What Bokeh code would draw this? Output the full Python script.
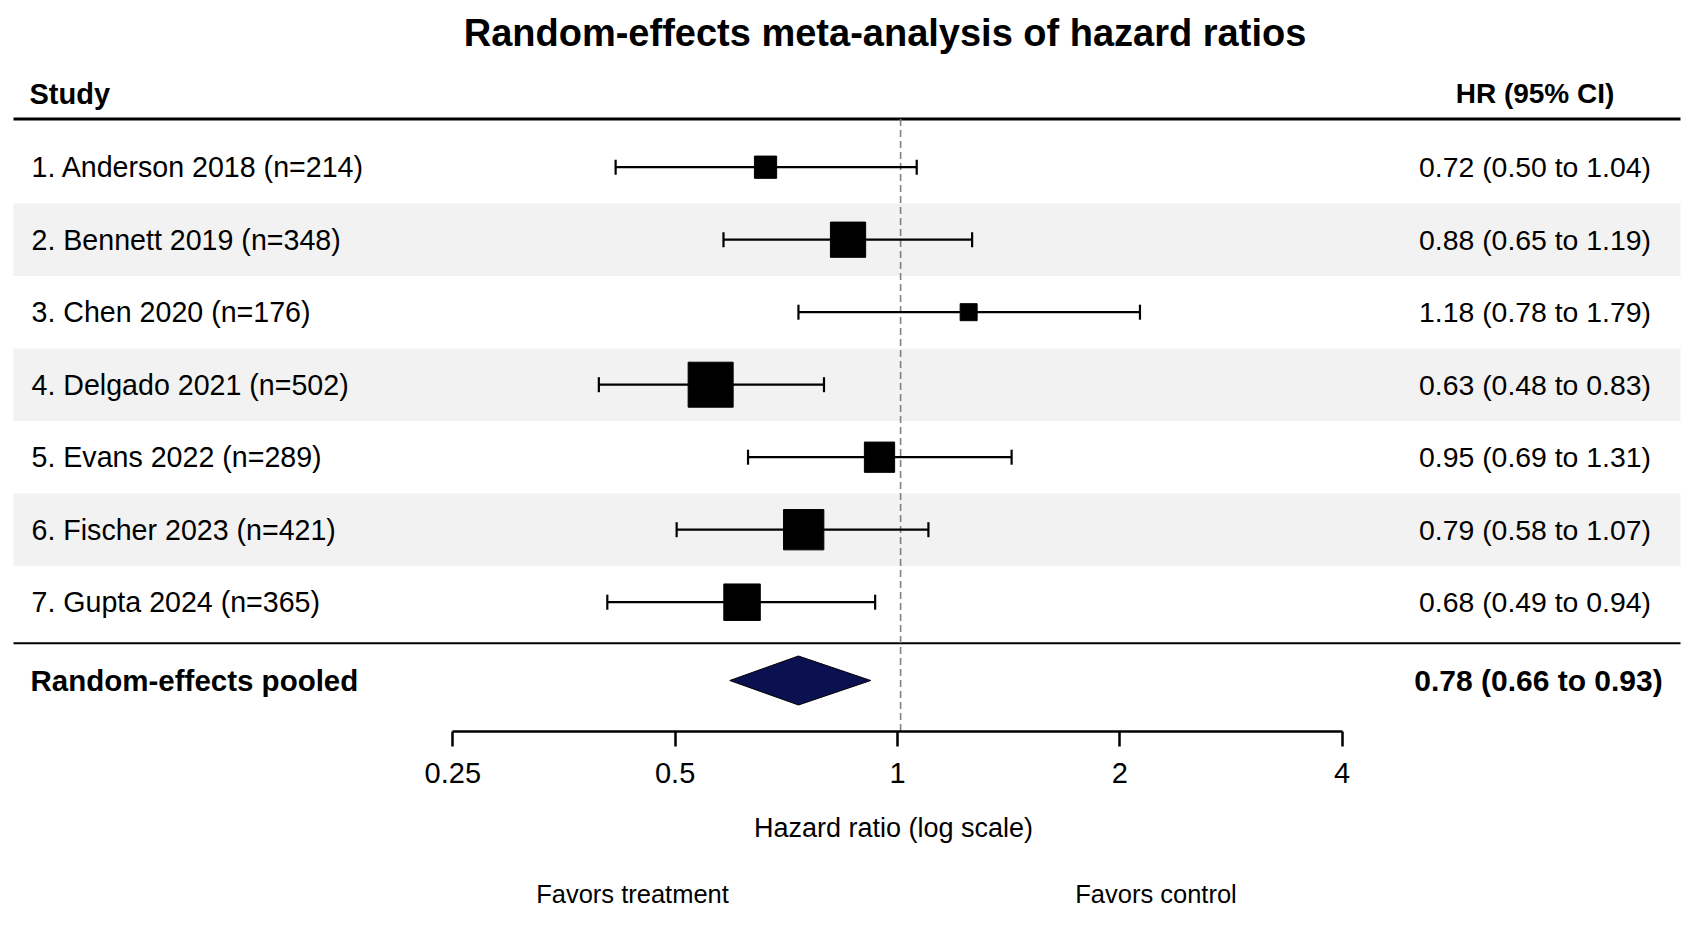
import numpy as np
from bokeh.plotting import figure
from bokeh.models import (Range1d, LinearScale, LogScale, LogAxis, FixedTicker,
                          CustomJSTickFormatter, ColumnDataSource)
from bokeh.core.properties import value
from bokeh.embed import file_html
from bokeh.resources import INLINE

# ---------------- data ----------------
names = ["Anderson", "Bennett", "Chen", "Delgado", "Evans", "Fischer", "Gupta"]
years = [2018, 2019, 2020, 2021, 2022, 2023, 2024]
n_patients = [214, 348, 176, 502, 289, 421, 365]
hr = [0.72, 0.88, 1.18, 0.63, 0.95, 0.79, 0.68]
ci_low = [0.50, 0.65, 0.78, 0.48, 0.69, 0.58, 0.49]
ci_high = [1.04, 1.19, 1.79, 0.83, 1.31, 1.07, 0.94]
pooled_hr = 0.78
pooled_low = 0.66
pooled_high = 0.93
tick_values = [0.25, 0.5, 1, 2, 4]

title_text = "Random-effects meta-analysis of hazard ratios"
pooled_label = "Random-effects pooled"
x_label = "Hazard ratio (log scale)"
favors_left = "Favors treatment"
favors_right = "Favors control"

# ---------------- layout helpers ----------------
W, H = 1693, 929
FONT = value("Liberation Sans")
ROW1_PX, PITCH = 166.7, 72.5


def to_row(px):
    return 1 + (px - ROW1_PX) / PITCH


rows = list(range(1, len(names) + 1))
labels = [f"{i}. {nm} {yr} (n={n})" for i, nm, yr, n in zip(rows, names, years, n_patients)]
hr_txt = [f"{h:.2f} ({l:.2f} to {u:.2f})" for h, l, u in zip(hr, ci_low, ci_high)]
pooled_txt = f"{pooled_hr:.2f} ({pooled_low:.2f} to {pooled_high:.2f})"

nmin, nmax = min(n_patients), max(n_patients)
box_size = [17 + 28 * np.log(n / nmin) / np.log(nmax / nmin) for n in n_patients]

header_y = to_row(118.5)
sep_y = to_row(642.7)
pooled_y = to_row(680)
axis_y = to_row(730.7)

src = ColumnDataSource(dict(row=rows, label=labels, hr=hr, lo=ci_low, hi=ci_high,
                            txt=hr_txt, size=box_size))

p = figure(width=W, height=H, output_backend="svg", toolbar_location=None,
           x_axis_type="log", x_range=Range1d(0.11199, 6.880),
           y_range=Range1d(to_row(H), to_row(0)),
           x_axis_location=None, y_axis_location=None, min_border=0)
p.outline_line_color = None
p.background_fill_color = "white"
p.border_fill_color = "white"
for g in p.grid:
    g.visible = False

p.extra_x_ranges = {"px": Range1d(0, W), "axis": Range1d(0.06102, 11.965)}
p.extra_x_scales = {"px": LinearScale(), "axis": LogScale()}
p.extra_y_ranges = {"px": Range1d(H, 0)}
p.extra_y_scales = {"px": LinearScale()}

# zebra bands (even rows)
band_rows = [r for r in rows if r % 2 == 0]
p.quad(left=13, right=1680, bottom=[r - 0.5 for r in band_rows], top=[r + 0.5 for r in band_rows],
       x_range_name="px", fill_color="#f2f2f2", line_color=None)

# rules
p.segment(x0=[13, 13], x1=[1680, 1680], y0=[header_y, sep_y], y1=[header_y, sep_y],
          x_range_name="px", line_color="black", line_width=[3, 2])

# null line
p.segment(x0=[1], x1=[1], y0=[header_y], y1=[axis_y], line_color="#808080",
          line_width=1.6, line_dash="7 4")

# CIs
p.segment(x0="lo", x1="hi", y0="row", y1="row", source=src, line_color="black", line_width=2.3)
p.scatter(x=ci_low + ci_high, y=rows + rows, marker="dash", angle=np.pi / 2, size=15,
          line_color="black", line_width=2.2)
p.scatter(x="hr", y="row", size="size", marker="square", source=src,
          fill_color="black", line_color="black")

# pooled diamond
dh = 24.5 / PITCH
p.patch(x=[pooled_low, pooled_hr, pooled_high, pooled_hr],
        y=[pooled_y, pooled_y - dh, pooled_y, pooled_y + dh],
        fill_color="#0b1150", line_color="black", line_width=1)

# text columns
p.text(x=31, y="row", text="label", source=src, x_range_name="px", text_font=FONT,
       text_font_size="28.6px", text_baseline="middle", text_align="left", text_color="black")
p.text(x=1534.5, y="row", text="txt", source=src, x_range_name="px", text_font=FONT,
       text_font_size="28.4px", text_baseline="middle", text_align="center", text_color="black")

# headings / bold texts
p.text(x=[884.5], y=[32], text=[title_text], x_range_name="px", y_range_name="px",
       text_font=FONT, text_font_style="bold", text_font_size="38px",
       text_baseline="middle", text_align="center", text_color="black")
p.text(x=[29], y=[93], text=["Study"], x_range_name="px", y_range_name="px",
       text_font=FONT, text_font_style="bold", text_font_size="29px",
       text_baseline="middle", text_align="left", text_color="black")
p.text(x=[1534.5], y=[93], text=["HR (95% CI)"], x_range_name="px", y_range_name="px",
       text_font=FONT, text_font_style="bold", text_font_size="28px",
       text_baseline="middle", text_align="center", text_color="black")
p.text(x=[30], y=[pooled_y], text=[pooled_label], x_range_name="px",
       text_font=FONT, text_font_style="bold", text_font_size="29.5px",
       text_baseline="middle", text_align="left", text_color="black")
p.text(x=[1538], y=[pooled_y], text=[pooled_txt], x_range_name="px",
       text_font=FONT, text_font_style="bold", text_font_size="30px",
       text_baseline="middle", text_align="center", text_color="black")

# axis texts
p.text(x=[893], y=[827], text=[x_label], x_range_name="px", y_range_name="px",
       text_font=FONT, text_font_size="27px", text_baseline="middle",
       text_align="center", text_color="black")
p.text(x=[632, 1155.5], y=[893, 893], text=[favors_left, favors_right],
       x_range_name="px", y_range_name="px", text_font=FONT, text_font_size="25.5px",
       text_baseline="middle", text_align="center", text_color="black")

# bottom axis
ax = LogAxis(x_range_name="axis",
             ticker=FixedTicker(ticks=tick_values, minor_ticks=[]),
             formatter=CustomJSTickFormatter(code="return String(tick)"),
             bounds=(tick_values[0], tick_values[-1]), fixed_location=axis_y,
             major_tick_in=0, major_tick_out=15, minor_tick_in=0, minor_tick_out=0,
             axis_line_width=2.5, axis_line_color="black",
             major_tick_line_width=2.5, major_tick_line_color="black",
             major_label_text_font="Liberation Sans", major_label_text_font_size="29px",
             major_label_text_color="black", major_label_standoff=17)
p.add_layout(ax, "below")

open("out.html", "w").write(file_html(p, INLINE))
